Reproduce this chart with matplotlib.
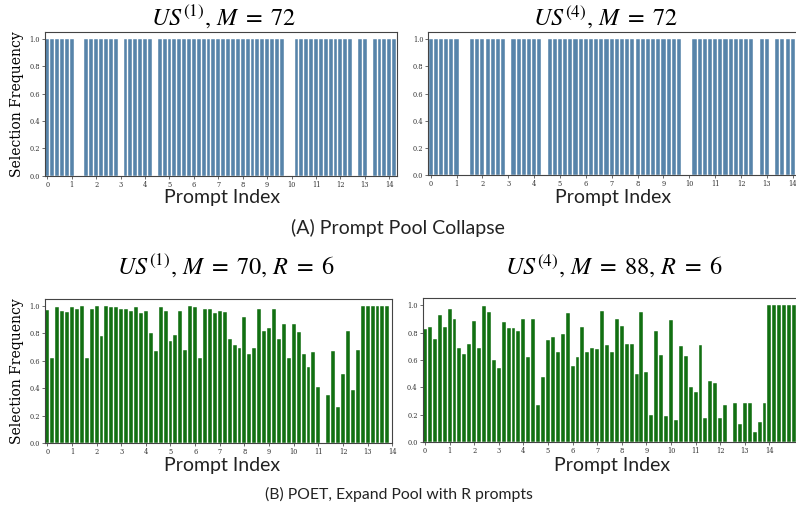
import matplotlib
matplotlib.use("Agg")
import matplotlib.pyplot as plt

W, H = 796, 514

# Selection frequency per prompt (x position = prompt slot)
us1_collapse = [1, 1, 1, 1, 1, 1, 0, 0, 1, 1,
                1, 1, 1, 1, 1, 0, 1, 1, 1, 1,
                1, 1, 0, 1, 1, 1, 1, 1, 1, 1,
                1, 1, 1, 1, 1, 1, 1, 1, 1, 1,
                1, 1, 1, 1, 1, 1, 1, 1, 1, 0,
                0, 1, 1, 1, 1, 1, 1, 1, 1, 1,
                1, 1, 1, 0, 1, 1, 0, 1, 1, 1,
                1, 1]

us4_collapse = [1, 1, 1, 1, 1, 1, 0, 0, 1, 1,
                1, 1, 1, 1, 1, 0, 1, 1, 1, 1,
                1, 1, 0, 1, 1, 1, 1, 1, 1, 1,
                1, 1, 1, 1, 1, 1, 1, 1, 1, 1,
                1, 1, 1, 1, 1, 1, 1, 1, 1, 0,
                0, 1, 1, 1, 1, 1, 1, 1, 1, 1,
                1, 1, 1, 0, 1, 1, 0, 1, 1, 1,
                1, 1]

us1_poet = [0.97, 0.62, 0.99, 0.965, 0.955, 0.99, 0.98, 1.0, 0.62, 0.98,
            1.0, 0.78, 1.0, 0.99, 0.99, 0.975, 0.98, 0.965, 0.99, 0.95,
            0.965, 0.80, 0.67, 0.99, 0.965, 0.745, 0.785, 0.965, 0.68, 1.0,
            0.99, 0.62, 0.975, 0.975, 0.95, 0.965, 0.955, 0.76, 0.715, 0.69,
            0.92, 0.65, 0.69, 0.98, 0.815, 0.835, 0.98, 0.76, 0.865, 0.62,
            0.865, 0.81, 0.65, 0.555, 0.66, 0.41, 0.0, 0.35, 0.67, 0.265,
            0.50, 0.815, 0.39, 0.675, 1.0, 1.0, 1.0, 1.0, 1.0, 1.0]

us4_poet = [0.825, 0.84, 0.75, 0.925, 0.84, 0.97, 0.90, 0.69, 0.645, 0.72,
            0.885, 0.69, 0.995, 0.95, 0.60, 0.54, 0.875, 0.83, 0.83, 0.815,
            0.90, 0.625, 0.90, 0.27, 0.475, 0.745, 0.77, 0.66, 0.79, 0.94,
            0.56, 0.625, 0.84, 0.66, 0.69, 0.68, 0.96, 0.71, 0.655, 0.90,
            0.85, 0.72, 0.72, 0.50, 0.95, 0.51, 0.20, 0.81, 0.64, 0.19,
            0.89, 0.163, 0.70, 0.626, 0.405, 0.37, 0.71, 0.175, 0.45, 0.43,
            0.175, 0.27, 0.0, 0.285, 0.13, 0.285, 0.285, 0.075, 0.15, 0.285,
            1.0, 1.0, 1.0, 1.0, 1.0, 1.0, 1.0, 1.0, 1.0, 1.0,
            1.0, 1.0, 1.0, 1.0, 1.0, 1.0, 1.0, 1.0]

titles = [r"$US^{(1)},\,M\;=\;72$", r"$US^{(4)},\,M\;=\;72$",
          r"$US^{(1)},\,M\;=\;70,\,R\;=\;6$", r"$US^{(4)},\,M\;=\;88,\,R\;=\;6$"]
captions = ["(A) Prompt Pool Collapse", "(B) POET, Expand Pool with R prompts"]
yticks = [0.0, 0.2, 0.4, 0.6, 0.8, 1.0]
last_tick_label = 14

BLUE = "#5784aa"
GREEN = "#127012"

plt.rcParams["mathtext.fontset"] = "stix"

fig = plt.figure(figsize=(W / 100, H / 100), dpi=100)
fig.patch.set_facecolor("white")


def rect(l, t, r, b):
    return [l / W, 1 - b / H, (r - l) / W, (b - t) / H]


# (values, colour, axes box in px (l, t, r, b), right x-limit, ylabel?, title centre, x-label centre)
panels = [
    (us1_collapse, BLUE, (44.9, 32.3, 396.6, 175.7), 71.5, True, (223.5, 17), (222.5, 197)),
    (us4_collapse, BLUE, (428.1, 32.3, 800.5, 175.2), 71.5, False, (605, 17), (613, 197)),
    (us1_poet, GREEN, (44.8, 299.0, 392.3, 443.0), 70.0, True, (225.5, 266), (222.5, 466)),
    (us4_poet, GREEN, (422.5, 298.3, 855.5, 442.3), 87.5, False, (613.5, 266), (612.5, 466)),
]

for (vals, col, box, xr, ylab, tpos, xlpos), title in zip(panels, titles):
    ax = fig.add_axes(rect(*box))
    idx = list(range(len(vals)))
    ax.bar(idx, vals, width=0.8, color=col, edgecolor="white", linewidth=0.3)
    ticks = [t for t in range(0, last_tick_label * 5 + 1, 5) if t <= xr]
    ax.set_xticks(ticks)
    ax.set_xticklabels([str(t // 5) for t in ticks])
    ax.set_xlim(-0.5, xr)
    ax.set_ylim(0, 1.05)
    ax.set_yticks(yticks)
    ax.set_yticklabels([f"{v:.1f}" for v in yticks])
    for lab in ax.get_xticklabels() + ax.get_yticklabels():
        lab.set_fontfamily("DejaVu Serif")
        lab.set_fontsize(4.8)
        lab.set_color("#333333")
    ax.tick_params(length=2, width=0.5, pad=1.5, colors="#333333")
    for s in ax.spines.values():
        s.set_linewidth(0.8)
        s.set_color("#444444")
    if ylab:
        ax.set_ylabel("Selection Frequency", fontfamily="DejaVu Serif",
                      fontsize=10, labelpad=4)
    fig.text(tpos[0] / W, 1 - tpos[1] / H, title, fontsize=17.5,
             ha="center", va="center")
    fig.text(xlpos[0] / W, 1 - xlpos[1] / H, "Prompt Index", fontfamily="Lato",
             fontsize=14, ha="center", va="center", color="#222222")

fig.text(398 / W, 1 - 228 / H, captions[0], fontfamily="Lato", fontsize=14,
         ha="center", va="center", color="#222222")
fig.text(399 / W, 1 - 494 / H, captions[1], fontfamily="Lato", fontsize=11.3,
         ha="center", va="center", color="#222222")

fig.savefig("out.png", dpi=100, facecolor="white")
